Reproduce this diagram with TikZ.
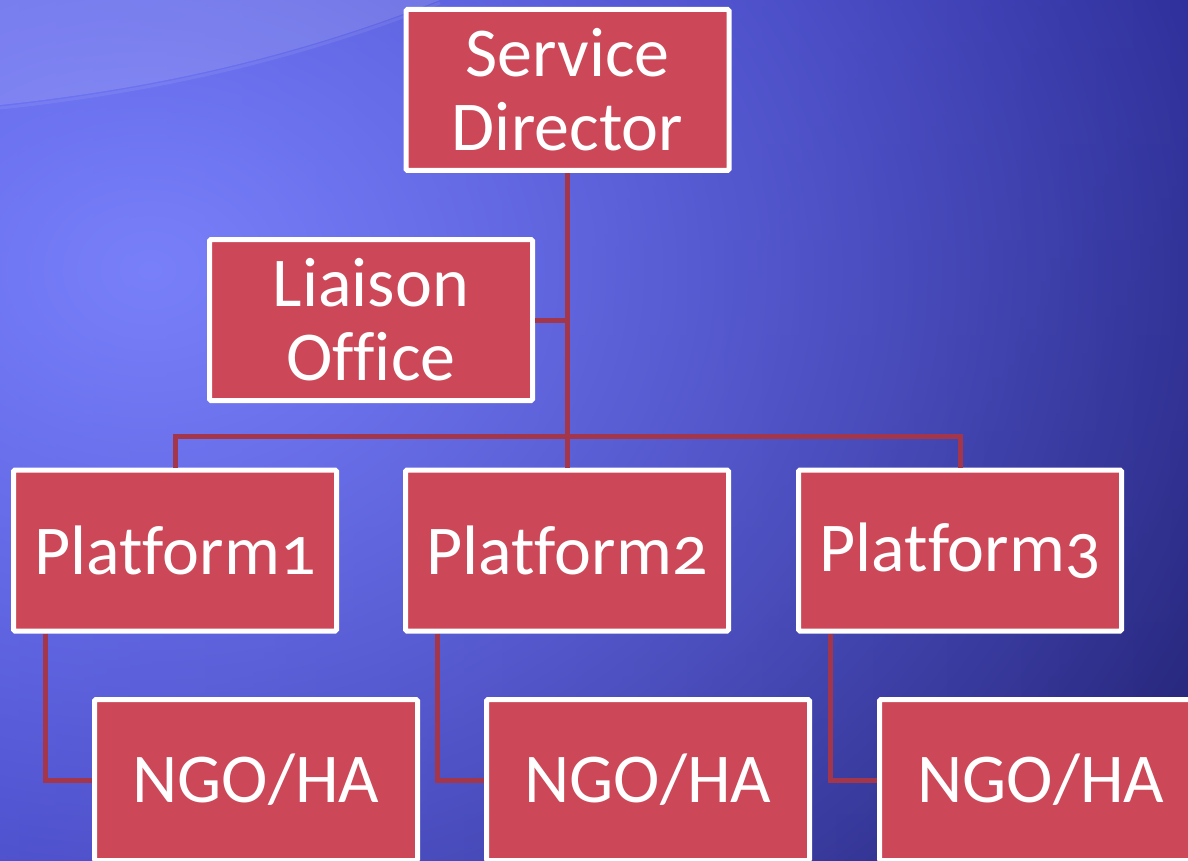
\documentclass[tikz,border=0pt]{standalone}
\usepackage{fontspec}
\setmainfont{Carlito}[Numbers=OldStyle, Ligatures=NoCommon]
\usetikzlibrary{fadings}
\tikzfading[name=softglow, inner color=transparent!0, outer color=transparent!100]
\definecolor{boxred}{HTML}{CC4858}
\definecolor{linered}{HTML}{A3364A}
\definecolor{bgtop}{HTML}{3C3CD2}
\definecolor{bgbot}{HTML}{33338A}
\definecolor{bglight}{HTML}{7C84FC}
\definecolor{bgdark}{HTML}{1C1C68}
\tikzset{
  orgbox/.style={draw=white, fill=boxred, line width=5pt, rounded corners=1.5pt,
    minimum width=323pt, minimum height=161pt, inner sep=0pt, text=white,
    align=center, font=\fontsize{70}{74}\selectfont},
  conn/.style={draw=linered, line width=5pt}
}
\begin{document}
\begin{tikzpicture}[x=1pt,y=-1pt]
\useasboundingbox (0,0) rectangle (1188,861);
% background
\begin{scope}
\clip (0,0) rectangle (1188,861);
\shade[top color=bgtop, bottom color=bgbot] (0,0) rectangle (1188,861);
\shade[left color=bgtop, right color=bgdark, opacity=0.6] (0,0) rectangle (1188,861);
\fill[bglight, path fading=softglow, opacity=0.95] (150,270) ellipse [x radius=1200, y radius=950];
\fill[white, opacity=0.13] (0,0) -- (0,105) .. controls (160,88) and (300,55) .. (440,0) -- cycle;
\draw[white, opacity=0.08, line width=3pt] (0,108) .. controls (160,91) and (300,58) .. (440,3);
\end{scope}
% nodes
\node[orgbox] (sd) at (567.5,90) {Service\\Director};
\node[orgbox] (lo) at (371,320) {Liaison\\Office};
\node[orgbox] (p1) at (175,550.5) {Plat\kern0ptform1};
\node[orgbox] (p2) at (567,550.5) {Plat\kern0ptform2};
\node[orgbox] (p3) at (960,550.5) {Plat\kern0ptform3};
\node[orgbox] (n1) at (256,780) {NGO/HA};
\node[orgbox] (n2) at (648,780) {NGO/HA};
\node[orgbox] (n3) at (1041,780) {NGO/HA};
\coordinate (bus) at (567,436);
% connectors
\draw[conn] (sd.south) -- (sd.south |- p2.north);
\draw[conn] (lo.east) -- (lo.east -| sd.south);
\draw[conn] (p1.north) |- (bus) -| (p3.north);
\draw[conn] ([xshift=34pt]p1.south west) |- (n1.west);
\draw[conn] ([xshift=34pt]p2.south west) |- (n2.west);
\draw[conn] ([xshift=34pt]p3.south west) |- (n3.west);
\end{tikzpicture}
\end{document}
